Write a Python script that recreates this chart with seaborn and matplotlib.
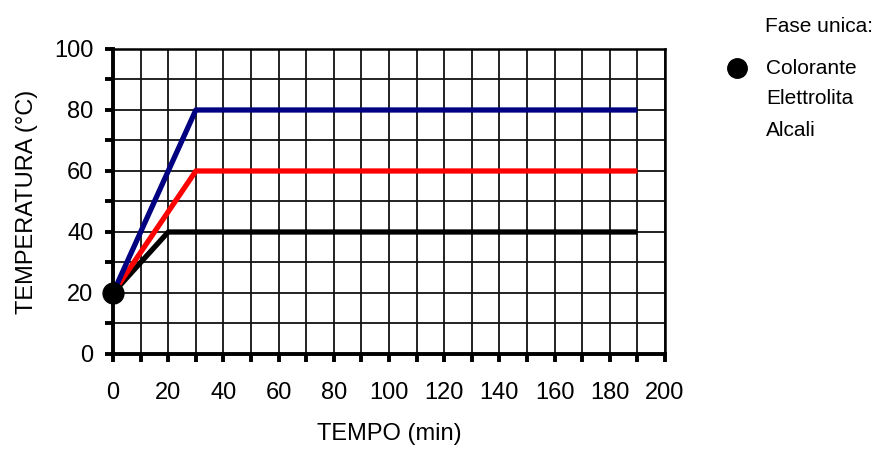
import matplotlib
matplotlib.use("Agg")
import matplotlib.pyplot as plt
import seaborn as sns
import pandas as pd
from matplotlib.lines import Line2D
from matplotlib.ticker import MultipleLocator

# Data
tempo_alta = [0, 30, 190]
temp_alta = [20, 80, 80]
tempo_media = [0, 30, 190]
temp_media = [20, 60, 60]
tempo_bassa = [0, 20, 190]
temp_bassa = [20, 40, 40]
serie = ["80", "60", "40"]
colori = ["#000080", "#ff0000", "#000000"]
start_x = [0]
start_y = [20]
legend_title = "Fase unica:"
legend_items = ["Colorante", "Elettrolita", "Alcali"]

rows = []
for name, xs, ys in zip(serie, [tempo_alta, tempo_media, tempo_bassa],
                        [temp_alta, temp_media, temp_bassa]):
    for x, y in zip(xs, ys):
        rows.append({"tempo": x, "temp": y, "serie": name})
df = pd.DataFrame(rows)

sns.set_style("white")
plt.rcParams['font.family'] = ['Liberation Sans', 'DejaVu Sans']
plt.rcParams['text.color'] = 'black'
plt.rcParams['axes.labelcolor'] = 'black'
plt.rcParams['xtick.color'] = 'black'
plt.rcParams['ytick.color'] = 'black'

fig = plt.figure(figsize=(8.77, 4.49), dpi=100)
ax = fig.add_axes([0.1289, 0.2116, 0.6294, 0.6793])

order = ["40", "60", "80"]
pal = dict(zip(serie, colori))
for s in order:
    sub = df[df.serie == s]
    sns.lineplot(data=sub, x="tempo", y="temp", color=pal[s], lw=3.8,
                 ax=ax, legend=False, sort=False, estimator=None, zorder=3,
                 solid_capstyle="butt")

ax.plot(start_x, start_y, 'o', color='black', ms=15, clip_on=False, zorder=5)

ax.set_xlim(0, 200)
ax.set_ylim(0, 100)
ax.xaxis.set_major_locator(MultipleLocator(20))
ax.xaxis.set_minor_locator(MultipleLocator(10))
ax.yaxis.set_major_locator(MultipleLocator(20))
ax.yaxis.set_minor_locator(MultipleLocator(10))
ax.grid(True, which='both', color='#111111', lw=1.3, zorder=1)
ax.set_axisbelow(True)

for sp in ax.spines.values():
    sp.set_color('black')
    sp.set_linewidth(1.8)
ax.spines['left'].set_linewidth(2.8)
ax.spines['bottom'].set_linewidth(2.8)

ax.tick_params(which='both', direction='out', length=6, width=2.8,
               color='black', bottom=True, left=True)
ax.tick_params(axis='x', which='major', labelsize=17, pad=14)
ax.tick_params(axis='y', which='major', labelsize=17, pad=8)

ax.set_xlabel("TEMPO (min)", fontsize=17, labelpad=14)
ax.set_ylabel("TEMPERATURA (°C)", fontsize=17, labelpad=12)

fig.text(765 / 877, 1 - 27 / 449, legend_title, fontsize=15, va='center', ha='left')
ys_px = [68, 99, 131]
for label, yp in zip(legend_items, ys_px):
    fig.text(766 / 877, 1 - yp / 449, label, fontsize=15, va='center', ha='left')
fig.add_artist(Line2D([737 / 877], [1 - 68 / 449], marker='o', color='black',
                      ms=14, transform=fig.transFigure, linestyle='none'))

fig.savefig("out.png", dpi=100, facecolor='white')
